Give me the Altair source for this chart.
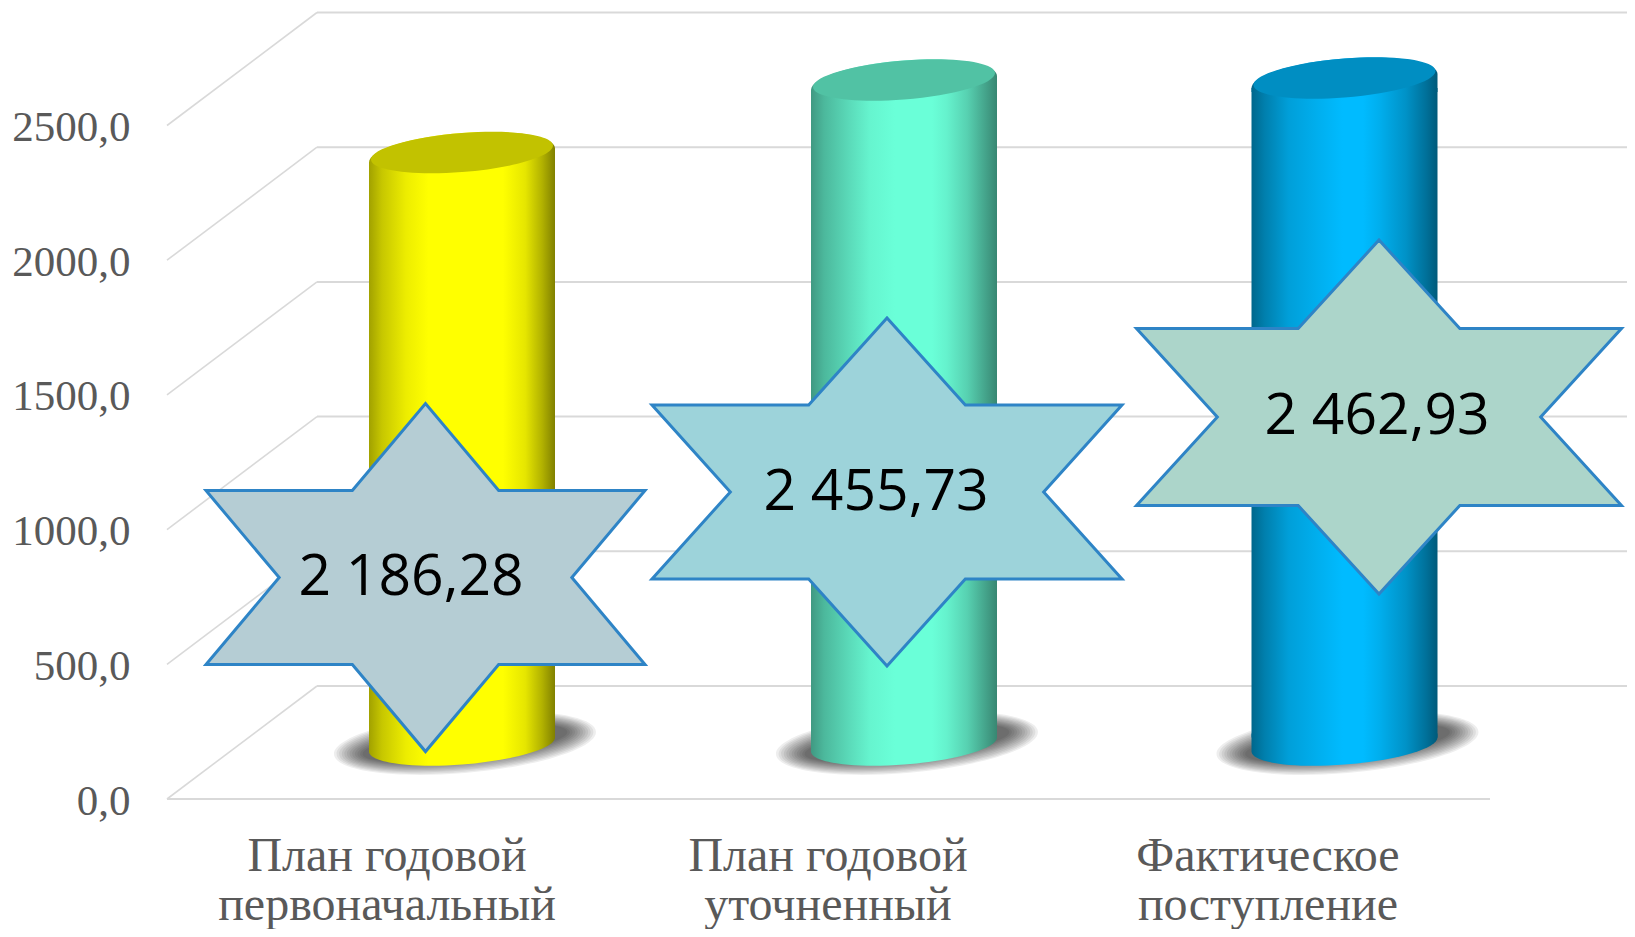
import altair as alt
import pandas as pd

# ---- values ----
categories_line1 = ["План годовой", "План годовой", "Фактическое"]
categories_line2 = ["первоначальный", "уточненный", "поступление"]
values = [2186.28, 2455.73, 2462.93]
value_labels = ["2 186,28", "2 455,73", "2 462,93"]
axis_ticks = [0, 500, 1000, 1500, 2000, 2500]

base_colors = [(255, 255, 0), (106, 255, 216), (0, 187, 255)]
star_fills = ["#B5CDD4", "#9DD3DA", "#ACD5CA"]

# ---- layout (plot pixels on x; value units on y) ----
W, H = 1619, 921
PX = 0.2694            # pixels per value unit
Y0 = 791               # pixel of value 0 on the front plane
DOMAIN = [-(H - Y0) / PX, Y0 / PX]
DEPTH_X, DEPTH_Y = 150, 419.5
FRONT_X, FRONT_END = 159, 1482
BAR_BASE = 202
BAR_X = [454, 896, 1336.5]
BAR_A, BAR_TOP_B, BAR_BOT_B, BAR_K = 93, 22.5, 20, 7
STAR_X = [417.5, 879, 1371]
STAR_Y = [822, 1139.6, 1418]
STAR_HW = [219.5, 235, 242.5]
STAR_HH = [174, 174, 177]
LABEL_X = [403, 868, 1369]
LABEL_Y = [820, 1136, 1418]
CAT_X = [379, 820, 1260]
CAT_Y1, CAT_Y2 = -215, -397

SIDE_STOPS = [
    [(0, .63), (.07, .78), (.2, .93), (.32, 1), (.72, 1), (.84, .9), (.93, .7), (1, .5)],
    [(0, .6), (.07, .72), (.2, .85), (.32, .96), (.45, 1), (.65, 1), (.73, .95), (.84, .82), (.95, .62), (1, .53)],
    [(0, .55), (.07, .68), (.2, .85), (.37, .94), (.49, 1), (.6, 1), (.69, .93), (.83, .78), (.94, .6), (1, .48)],
]
KP = 0.5523


def hexc(c, f=1.0):
    return "#%02x%02x%02x" % tuple(min(255, int(round(v * f))) for v in c)


def side_gradient(c, stops):
    return alt.LinearGradient(
        gradient="linear", x1=0, x2=1, y1=0, y2=0,
        stops=[alt.GradientStop(color=hexc(c, f), offset=o) for o, f in stops],
    )


def ell(a, b, k, dy=0):
    def p(u, v):
        return f"{u * a:.2f},{v * b - u * k + dy:.2f}"
    return p


def ellipse_path(a, b, k, dy=0):
    p = ell(a, b, k, dy)
    return (f"M{p(-1, 0)} C{p(-1, -KP)} {p(-KP, -1)} {p(0, -1)} C{p(KP, -1)} {p(1, -KP)} {p(1, 0)} "
            f"C{p(1, KP)} {p(KP, 1)} {p(0, 1)} C{p(-KP, 1)} {p(-1, KP)} {p(-1, 0)} Z")


def top_cap_path(a, b, k):
    p = ell(a, b, k)
    return (f"M{p(-1, 0)} C{p(-1, -KP)} {p(-KP, -1)} {p(0, -1)} C{p(KP, -1)} {p(1, -KP)} {p(1, 0)} "
            f"L{a},{k + 4} L{-a},{k + 4} Z")


def bottom_cap_path(a, b, k):
    p = ell(a, b, k)
    return (f"M{-a},{-k - 4} L{p(-1, 0)} C{p(-1, KP)} {p(-KP, 1)} {p(0, 1)} C{p(KP, 1)} {p(1, KP)} {p(1, 0)} "
            f"L{a},{-k - 4} Z")


def star_path(w, h):
    pts = [(-w, -h / 2), (-w / 3, -h / 2), (0, -h), (w / 3, -h / 2), (w, -h / 2), (2 * w / 3, 0),
           (w, h / 2), (w / 3, h / 2), (0, h), (-w / 3, h / 2), (-w, h / 2), (-2 * w / 3, 0)]
    return "M" + " L".join(f"{x:.2f},{y:.2f}" for x, y in pts) + " Z"


xs = alt.Scale(domain=[0, W], range=[0, W])
ys = alt.Scale(domain=DOMAIN, range=[H, 0])

y_axis = alt.Axis(
    values=axis_ticks, offset=-122, labelPadding=0, ticks=False, domain=False, grid=False,
    labelFont="Liberation Serif", labelFontSize=43, labelColor="#595959", labelOffset=2,
    labelExpr="replace(format(datum.value, '.1f'), '.', ',')", labelOverlap=False, labelFlush=False,
)


def X(f="x"):
    return alt.X(f"{f}:Q", scale=xs, axis=None, title=None)


def Y(f="y"):
    return alt.Y(f"{f}:Q", scale=ys, axis=y_axis, title=None)


GRID = "#D9D9D9"
layers = []

back = pd.DataFrame({"x": [FRONT_X + DEPTH_X] * 6, "x2": [W] * 6, "y": [t + DEPTH_Y for t in axis_ticks]})
layers.append(alt.Chart(back).mark_rule(color=GRID, strokeWidth=2).encode(
    x=X(), x2="x2:Q", y=Y()))

diag = pd.DataFrame({"x": [FRONT_X] * 6, "x2": [FRONT_X + DEPTH_X] * 6, "y": axis_ticks,
                     "y2": [t + DEPTH_Y for t in axis_ticks]})
layers.append(alt.Chart(diag).mark_rule(color=GRID, strokeWidth=1.6).encode(
    x=X(), x2="x2:Q", y=Y(), y2="y2:Q"))

floor = pd.DataFrame({"x": [FRONT_X], "x2": [FRONT_END], "y": [0]})
layers.append(alt.Chart(floor).mark_rule(color=GRID, strokeWidth=2).encode(x=X(), x2="x2:Q", y=Y()))


def point_layer(x, y, path, **style):
    df = pd.DataFrame({"x": [x], "y": [y]})
    return alt.Chart(df).mark_point(shape=path, size=4, filled=True, opacity=1, **style).encode(x=X(), y=Y())


# shadows: stacked translucent ellipses give the soft edge
for bx in BAR_X:
    for t in range(12):
        layers.append(
            alt.Chart(pd.DataFrame({"x": [bx + 3], "y": [BAR_BASE + 6]}))
            .mark_point(shape=ellipse_path(131 - 2.6 * t, 30 - 1.3 * t, 11), size=4, filled=True,
                        fill="#000000", opacity=0.068, strokeWidth=0)
            .encode(x=X(), y=Y())
        )

ku = BAR_K / PX
for bx, v, c, st in zip(BAR_X, values, base_colors, SIDE_STOPS):
    g = side_gradient(c, st)
    wall = pd.DataFrame({"x": [bx - BAR_A], "x2": [bx + BAR_A], "y": [BAR_BASE + ku],
                         "y2": [BAR_BASE + v - ku]})
    layers.append(point_layer(bx, BAR_BASE, bottom_cap_path(BAR_A, BAR_BOT_B, BAR_K), fill=g, strokeWidth=0))
    layers.append(alt.Chart(wall).mark_rect(fill=g, strokeWidth=0).encode(
        x=X(), x2="x2:Q", y=Y(), y2="y2:Q"))
    layers.append(point_layer(bx, BAR_BASE + v, top_cap_path(BAR_A, BAR_TOP_B, BAR_K), fill=g, strokeWidth=0))
    layers.append(point_layer(bx, BAR_BASE + v, ellipse_path(BAR_A - 2, BAR_TOP_B - 3, BAR_K, dy=-3),
                              fill=hexc(c, .76), strokeWidth=0))

for sx, sy, hw, hh, fc in zip(STAR_X, STAR_Y, STAR_HW, STAR_HH, star_fills):
    layers.append(point_layer(sx, sy, star_path(hw, hh), fill=fc, stroke="#2E84C6", strokeWidth=3))

labels = pd.DataFrame({"x": LABEL_X, "y": LABEL_Y, "t": value_labels})
layers.append(alt.Chart(labels).mark_text(font="Open Sans", fontSize=57, color="#000000",
                                          align="center", baseline="middle").encode(
    x=X(), y=Y(), text="t:N"))

for line, yv in ((categories_line1, CAT_Y1), (categories_line2, CAT_Y2)):
    df = pd.DataFrame({"x": CAT_X, "y": [yv] * 3, "t": line})
    layers.append(alt.Chart(df).mark_text(font="Liberation Serif", fontSize=48, color="#595959",
                                          align="center", baseline="middle").encode(
        x=X(), y=Y(), text="t:N"))

chart = (
    alt.layer(*layers)
    .properties(width=W, height=H, padding=0, autosize=alt.AutoSizeParams(type="none"), background="#ffffff")
    .configure_view(stroke=None)
)

chart.save("out.html", embed_options={"renderer": "svg", "actions": False})
